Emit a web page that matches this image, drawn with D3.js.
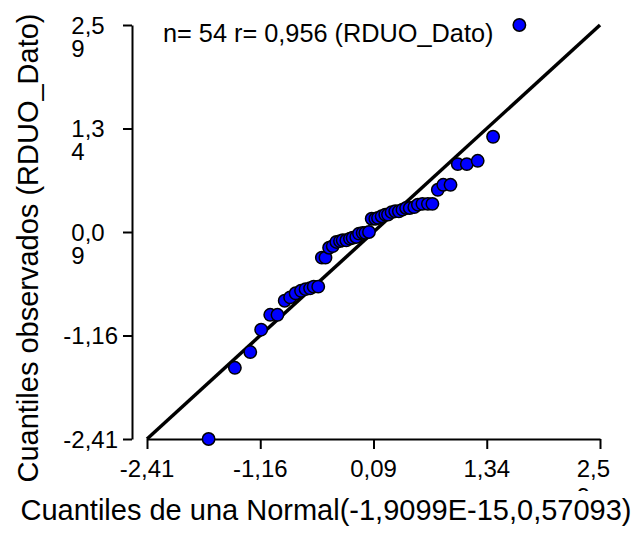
<!DOCTYPE html>
<html>
<head>
<meta charset="utf-8">
<script src="https://cdn.jsdelivr.net/npm/d3@7/dist/d3.min.js"></script>
<style>
  html, body { margin: 0; padding: 0; background: #fff; }
  svg { display: block; font-family: "Liberation Sans", Arial, sans-serif; }
</style>
</head>
<body>
<svg id="chart" width="640" height="534"></svg>
<script>
// Theoretical normal quantiles (x) and sorted observed residuals (y), n = 54
const theoretical = [
  -1.73, -1.44, -1.27, -1.15, -1.05, -0.97, -0.89, -0.83, -0.77, -0.71,
  -0.66, -0.61, -0.57, -0.52, -0.48, -0.44, -0.40, -0.36, -0.32, -0.28,
  -0.25, -0.21, -0.17, -0.14, -0.10, -0.07, -0.03, 0.00, 0.04, 0.07,
  0.11, 0.14, 0.18, 0.22, 0.25, 0.29, 0.33, 0.37, 0.41, 0.45,
  0.49, 0.54, 0.58, 0.63, 0.69, 0.74, 0.80, 0.86, 0.94, 1.02,
  1.12, 1.24, 1.41, 1.70
];
const observed = [
  -2.41, -1.55, -1.36, -1.09, -0.91, -0.91, -0.74, -0.70, -0.65, -0.62,
  -0.60, -0.59, -0.57, -0.57, -0.22, -0.22, -0.10, -0.08, -0.03, -0.02,
  -0.01, -0.01, 0.01, 0.02, 0.03, 0.07, 0.08, 0.08, 0.09, 0.25,
  0.25, 0.26, 0.28, 0.30, 0.30, 0.33, 0.34, 0.34, 0.36, 0.38,
  0.38, 0.39, 0.42, 0.43, 0.43, 0.43, 0.60, 0.66, 0.66, 0.91,
  0.91, 0.95, 1.24, 2.59
];

const axisMin = -2.41, axisMax = 2.59;
const tickValues = [-2.41, -1.16, 0.09, 1.34, 2.59];
// Tick label lines (long labels break onto a second line)
const xTickLines = [["-2,41"], ["-1,16"], ["0,09"], ["1,34"], ["2,5", "9"]];
const yTickLines = [["-2,41"], ["-1,16"], ["0,0", "9"], ["1,3", "4"], ["2,5", "9"]];

const xTitle = "Cuantiles de una Normal(-1,9099E-15,0,57093)";
const yTitle = "Cuantiles observados (RDUO_Dato)";
const note = "n= 54 r= 0,956 (RDUO_Dato)";

const svg = d3.select("#chart");

const x = d3.scaleLinear().domain([axisMin, axisMax]).range([147, 600]);
const y = d3.scaleLinear().domain([axisMin, axisMax]).range([439, 25]);

const tickFont = 24;

// clip for the x tick labels (the second line sits under the title)
svg.append("defs").append("clipPath").attr("id", "xlabClip")
  .append("rect").attr("x", 0).attr("y", 440).attr("width", 640).attr("height", 51);

// Y axis
const yAxisG = svg.append("g")
  .attr("transform", "translate(132,0)")
  .call(d3.axisLeft(y).tickValues(tickValues).tickSize(9).tickSizeOuter(0).tickFormat(""));
yAxisG.select(".domain").attr("stroke", "#000").attr("stroke-width", 2);
yAxisG.selectAll(".tick line").attr("stroke", "#000").attr("stroke-width", 2);

yAxisG.selectAll(".tick").each(function(d, i) {
  const lines = yTickLines[i];
  const g = d3.select(this);
  const t = g.append("text")
    .attr("fill", "#000")
    .attr("font-size", tickFont)
    .attr("text-anchor", "start");
  // measure the full label to place the block right-aligned beside the tick
  const probe = g.append("text").attr("font-size", tickFont).text(lines.join(""));
  const w = probe.node().getComputedTextLength();
  probe.remove();
  const left = -14 - w;
  lines.forEach((s, k) => {
    t.append("tspan").attr("x", left).attr("y", k * 23).attr("dy", "0.35em").text(s);
  });
});

// X axis
const xAxisG = svg.append("g")
  .attr("transform", "translate(0,439)")
  .call(d3.axisBottom(x).tickValues(tickValues).tickSize(10).tickSizeOuter(0).tickFormat(""));
xAxisG.select(".domain").attr("stroke", "#000").attr("stroke-width", 2);
xAxisG.selectAll(".tick line").attr("stroke", "#000").attr("stroke-width", 2);

const xLab = svg.append("g").attr("clip-path", "url(#xlabClip)");
tickValues.forEach((v, i) => {
  const lines = xTickLines[i];
  const probe = xLab.append("text").attr("font-size", tickFont).text(lines.join(""));
  const w = probe.node().getComputedTextLength();
  probe.remove();
  const left = x(v) - w / 2;
  const t = xLab.append("text").attr("font-size", tickFont).attr("fill", "#000");
  lines.forEach((s, k) => {
    t.append("tspan").attr("x", left).attr("y", 477 + k * 28).text(s);
  });
});

// Reference line y = x
svg.append("line")
  .attr("x1", x(axisMin)).attr("y1", y(axisMin))
  .attr("x2", x(axisMax)).attr("y2", y(axisMax))
  .attr("stroke", "#000").attr("stroke-width", 3.5);

// Points
svg.append("g").selectAll("circle")
  .data(theoretical.map((t, i) => [t, observed[i]]))
  .join("circle")
  .attr("cx", d => x(d[0]))
  .attr("cy", d => y(d[1]))
  .attr("r", 6.2)
  .attr("fill", "#0000ff")
  .attr("stroke", "#000")
  .attr("stroke-width", 1.5);

// Annotation
svg.append("text")
  .attr("x", 163).attr("y", 42)
  .attr("font-size", 25.3)
  .attr("fill", "#000")
  .text(note);

// Axis titles
svg.append("text")
  .attr("x", 326).attr("y", 520)
  .attr("text-anchor", "middle")
  .attr("font-size", 29)
  .attr("fill", "#000")
  .text(xTitle);

svg.append("text")
  .attr("transform", "translate(38,248) rotate(-90)")
  .attr("text-anchor", "middle")
  .attr("font-size", 29)
  .attr("fill", "#000")
  .text(yTitle);
</script>
</body>
</html>
